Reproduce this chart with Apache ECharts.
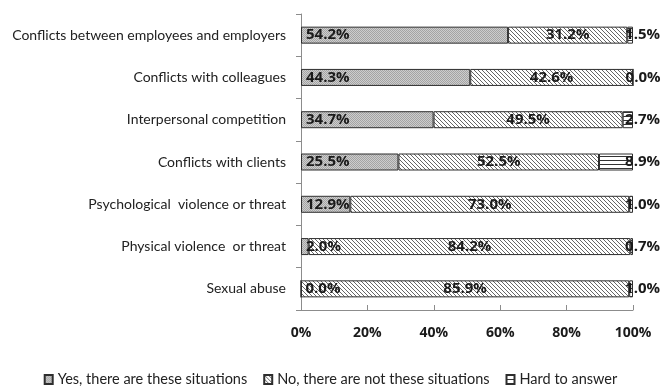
<!DOCTYPE html>
<html>
<head>
<meta charset="utf-8">
<script src="https://cdn.jsdelivr.net/npm/echarts@6/dist/echarts.min.js"></script>
<style>
  html, body { margin: 0; padding: 0; background: #fff; }
  #chart { width: 661px; height: 387px; }
</style>
</head>
<body>
<div id="chart"></div>
<script>
// Survey answers per situation type (percent of respondents)
const categories = [
  'Conflicts between employees and employers',
  'Conflicts with colleagues',
  'Interpersonal competition',
  'Conflicts with clients',
  'Psychological  violence or threat',
  'Physical violence  or threat',
  'Sexual abuse'
];
const yesValues  = [54.2, 44.3, 34.7, 25.5, 12.9, 2.0, 0.0];
const noValues   = [31.2, 42.6, 49.5, 52.5, 73.0, 84.2, 85.9];
const hardValues = [1.5, 0.0, 2.7, 8.9, 1.0, 0.7, 1.0];
const seriesNames = [
  'Yes, there are these situations',
  'No, there are not these situations',
  'Hard to answer'
];
const xTicks = [0, 20, 40, 60, 80, 100];

// Small tiled canvases used as fill patterns
function makePattern(size, draw) {
  const c = document.createElement('canvas');
  c.width = size; c.height = size;
  const ctx = c.getContext('2d');
  draw(ctx, size);
  return { image: c, repeat: 'repeat' };
}
const dotPattern = makePattern(2, (ctx) => {
  ctx.fillStyle = '#cdcdcd'; ctx.fillRect(0, 0, 2, 2);
  ctx.fillStyle = '#a4a4a4'; ctx.fillRect(0, 0, 1, 1); ctx.fillRect(1, 1, 1, 1);
});
const diagPattern = makePattern(4, (ctx) => {
  ctx.fillStyle = '#ffffff'; ctx.fillRect(0, 0, 4, 4);
  ctx.fillStyle = '#666666';
  for (let i = 0; i < 4; i++) ctx.fillRect(i, i, 1, 1);
});
const hLinePattern = makePattern(4, (ctx) => {
  ctx.fillStyle = '#ffffff'; ctx.fillRect(0, 0, 4, 4);
  ctx.fillStyle = '#333333'; ctx.fillRect(0, 0, 4, 1);
});

// Each row is shown as shares of its own total (100% stacked)
const totals = categories.map((_, i) => yesValues[i] + noValues[i] + hardValues[i]);
const toShares = (arr) => arr.map((v, i) => ({ value: v / totals[i] * 100, raw: v }));

const labelFmt = (p) => p.data.raw.toFixed(1) + '%';
const labelFont = { fontFamily: 'Open Sans', fontWeight: 'bold', fontSize: 15, color: '#1a1a1a' };

function barSeries(name, values, fill, labelPos, offset) {
  return {
    name: name,
    type: 'bar',
    stack: 'total',
    barWidth: 17,
    data: toShares(values),
    itemStyle: { color: fill, borderColor: '#2e2e2e', borderWidth: 1 },
    label: Object.assign({ show: true, position: labelPos, offset: offset || [0, 0], formatter: labelFmt }, labelFont),
    emphasis: { disabled: true }
  };
}

const chart = echarts.init(document.getElementById('chart'));
chart.setOption({
  animation: false,
  backgroundColor: '#ffffff',
  grid: { left: 301, right: 28, top: 14, bottom: 77 },
  legend: {
    top: 367,
    left: 'center',
    icon: 'rect',
    itemWidth: 8,
    itemHeight: 9,
    itemGap: 16,
    textStyle: { fontFamily: 'Lato', fontSize: 14.5, color: '#222' },
    data: seriesNames
  },
  xAxis: {
    type: 'value',
    min: 0,
    max: 100,
    interval: 20,
    axisLine: { show: true, lineStyle: { color: '#8c8c8c', width: 1 } },
    axisTick: { show: true, inside: true, length: 5, lineStyle: { color: '#8c8c8c' } },
    splitLine: { show: false },
    axisLabel: {
      margin: 16,
      formatter: (v) => xTicks.includes(v) ? v + '%' : '',
      fontFamily: 'Open Sans', fontWeight: 'bold', fontSize: 14, color: '#1a1a1a'
    }
  },
  yAxis: {
    type: 'category',
    inverse: true,
    data: categories,
    axisLine: { show: true, lineStyle: { color: '#8c8c8c', width: 1 } },
    axisTick: { show: true, length: 5, lineStyle: { color: '#8c8c8c' } },
    axisLabel: { margin: 15, fontFamily: 'Lato', fontSize: 14, color: '#222' }
  },
  series: [
    barSeries(seriesNames[0], yesValues, dotPattern, 'insideLeft'),
    barSeries(seriesNames[1], noValues, diagPattern, 'inside'),
    barSeries(seriesNames[2], hardValues, hLinePattern, 'insideRight', [32, 0])
  ]
});
</script>
</body>
</html>
